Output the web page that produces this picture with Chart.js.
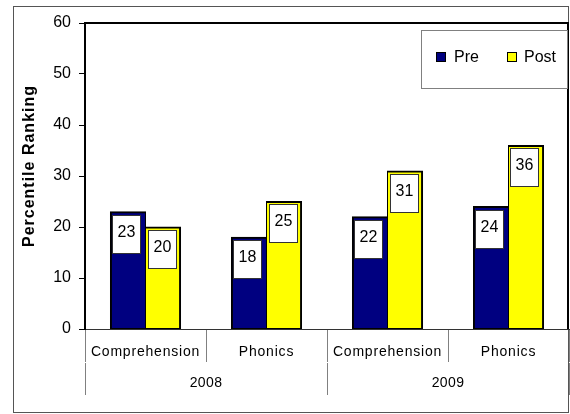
<!DOCTYPE html>
<html><head><meta charset="utf-8">
<script src="https://cdn.jsdelivr.net/npm/chart.js@4"></script>
<style>html,body{margin:0;padding:0;background:#fff;}#wrap{width:570px;height:414px;position:relative;}</style>
</head><body><div id="wrap"><canvas id="c" width="570" height="414"></canvas></div>
<script>
const categories = ['Comprehension', 'Phonics', 'Comprehension', 'Phonics'];
const years = ['2008', '2009'];
const seriesNames = ['Pre', 'Post'];
const preValues = [23, 18, 22, 24];
const postValues = [20, 25, 31, 36];
const yTitle = 'Percentile Ranking';

const FONT = '"Liberation Sans", Arial, sans-serif';
const COLORS = ['#000080', '#FFFF00'];

const decor = {
  id: 'decor',
  afterLayout(chart) {
    [['x', '0.8px'], ['x2', '0.4px']].forEach(([id, ls]) => {
      const s = chart.scales[id];
      if (s && !s._lsWrapped) {
        s._lsWrapped = true;
        const orig = s.drawLabels.bind(s);
        s.drawLabels = function (a) {
          const ctx = this.ctx; ctx.save(); ctx.letterSpacing = ls; orig(a); ctx.restore();
        };
      }
    });
  },
  beforeDraw(chart) {
    const ctx = chart.ctx;
    ctx.save();
    ctx.fillStyle = '#fff'; ctx.fillRect(0, 0, chart.width, chart.height);
    ctx.strokeStyle = '#555'; ctx.lineWidth = 1;
    ctx.strokeRect(13.5, 6.5, 555, 406);
    ctx.restore();
  },
  afterDatasetsDraw(chart) {
    const ctx = chart.ctx;
    ctx.save();
    chart.data.datasets.forEach((ds, di) => {
      chart.getDatasetMeta(di).data.forEach((el, i) => {
        const p = el.getProps(['x', 'y', 'width'], true);
        const bx = Math.round(p.x - p.width / 2 + 2) + 0.5, by = Math.round(p.y + 3) + 0.5;
        const w = 28, h = 38;
        ctx.fillStyle = '#fff'; ctx.fillRect(bx, by, w, h);
        ctx.strokeStyle = '#333'; ctx.lineWidth = 1; ctx.strokeRect(bx, by, w, h);
        ctx.fillStyle = '#000'; ctx.font = '16px ' + FONT;
        ctx.textAlign = 'center'; ctx.textBaseline = 'middle';
        ctx.fillText(String(ds.data[i]), bx + w / 2, by + h / 2 - 2);
      });
    });
    ctx.restore();
  },
  afterDraw(chart) {
    const ctx = chart.ctx, a = chart.chartArea;
    ctx.save();
    ctx.strokeStyle = '#000'; ctx.lineWidth = 2;
    ctx.beginPath();
    ctx.moveTo(a.left - 1, a.top); ctx.lineTo(a.right - 1, a.top); ctx.lineTo(a.right - 1, a.bottom);
    ctx.stroke();
    ctx.save();
    ctx.translate(30, 166); ctx.rotate(-Math.PI / 2);
    ctx.font = 'bold 16px ' + FONT; ctx.letterSpacing = '1px';
    ctx.fillStyle = '#000'; ctx.textAlign = 'center'; ctx.textBaseline = 'middle';
    ctx.fillText(yTitle, 0, 0);
    ctx.restore();
    ctx.fillStyle = '#fff'; ctx.fillRect(421, 30, 147, 58);
    ctx.strokeStyle = '#808080'; ctx.lineWidth = 1; ctx.strokeRect(421.5, 30.5, 146, 58);
    const items = [[436, 454], [507, 524]];
    chart.data.datasets.forEach((ds, i) => {
      const [sx, tx] = items[i];
      ctx.fillStyle = ds.backgroundColor; ctx.fillRect(sx, 52, 10, 10);
      ctx.strokeStyle = '#000'; ctx.strokeRect(sx + 0.5, 52.5, 9, 9);
      ctx.fillStyle = '#000'; ctx.font = '16px ' + FONT;
      ctx.textAlign = 'left'; ctx.textBaseline = 'middle';
      ctx.fillText(ds.label, tx, 57.5);
    });
    ctx.restore();
  }
};

new Chart(document.getElementById('c'), {
  type: 'bar',
  data: {
    labels: categories,
    datasets: [
      { label: seriesNames[0], data: preValues, backgroundColor: COLORS[0], borderColor: '#000',
        borderWidth: { top: 2, left: 2, right: 1, bottom: 1 }, borderSkipped: false, inflateAmount: 0.5 },
      { label: seriesNames[1], data: postValues, backgroundColor: COLORS[1], borderColor: '#000',
        borderWidth: { top: 2, left: 1, right: 2, bottom: 1 }, borderSkipped: false, inflateAmount: 0.5 }
    ]
  },
  options: {
    responsive: false, animation: false, devicePixelRatio: 1,
    layout: { padding: { top: 23, right: 1, left: 0, bottom: 0 } },
    plugins: { legend: { display: false }, tooltip: { enabled: false } },
    datasets: { bar: { categoryPercentage: 0.58, barPercentage: 1 } },
    scales: {
      x: {
        position: 'bottom', weight: 0, offset: true,
        grid: { offset: true, drawOnChartArea: false, tickLength: 33, color: '#808080', lineWidth: 1 },
        border: { display: true, color: '#333', width: 1 },
        ticks: { font: { size: 14, family: FONT }, color: '#000', padding: -18.4, maxRotation: 0, autoSkip: false },
        afterFit(s) { s.height = 34; }
      },
      x2: {
        type: 'category', labels: years, position: 'bottom', weight: 1, offset: true,
        grid: { offset: true, drawOnChartArea: false, tickLength: 32, color: '#808080', lineWidth: 1 },
        border: { display: false },
        ticks: { font: { size: 14, family: FONT }, color: '#000', padding: -20.4, maxRotation: 0, autoSkip: false },
        afterFit(s) { s.height = 51; }
      },
      y: {
        min: 0, max: 60,
        ticks: { stepSize: 10, font: { size: 16, family: FONT }, color: '#000', padding: 8 },
        grid: { drawOnChartArea: false, tickLength: 6, color: '#000' },
        border: { display: true, color: '#000', width: 2 },
        afterFit(s) { s.width = 85; }
      }
    }
  },
  plugins: [decor]
});
</script></body></html>
